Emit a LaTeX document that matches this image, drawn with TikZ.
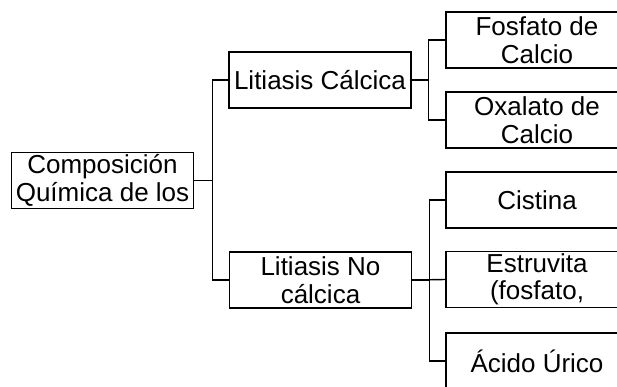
\documentclass[tikz,border=0pt]{standalone}
\usepackage{fontspec}
\setmainfont{Liberation Sans}
\usepackage{tikz}

\tikzset{caja/.style={rectangle, draw, line width=1.5pt, minimum width=182pt, minimum height=56pt,
    inner sep=1pt, align=center, font=\fontsize{26}{27.5}\selectfont}}

\begin{document}
\begin{tikzpicture}[x=1pt, y=1pt, line width=1.4pt]
                    \useasboundingbox (0, 0) rectangle (617, 386);
                    \node[caja] (raiz) at (102.5, 205.5) {Composición\\Química de los};
                    \node[caja] (calcica) at (320, 306) {Litiasis Cálcica};
                    \node[caja] (nocalcica) at (320.5, 106) {Litiasis No\\cálcica};
                    \node[caja] (fosfato) at (537, 346) {Fosfato de\\Calcio};
                    \node[caja] (oxalato) at (537, 266) {Oxalato de\\Calcio};
                    \node[caja] (cistina) at (537, 186) {Cistina};
                    \node[caja] (estruvita) at (537, 106.5) {Estruvita\\(fosfato,};
                    \node[caja] (acido) at (537, 25) {Ácido Úrico};
                    \draw (raiz.east) -- +(18.5, 0) |- (calcica.west);
                    \draw (raiz.east) -- +(18.5, 0) |- (nocalcica.west);
                    \draw (calcica.east) -- +(17, 0) |- (fosfato.west);
                    \draw (calcica.east) -- +(17, 0) |- (oxalato.west);
                    \draw (nocalcica.east) -- +(17, 0) |- (cistina.west);
                    \draw (nocalcica.east) -- (estruvita.west);
                    \draw (nocalcica.east) -- +(17, 0) |- (acido.west);
                \end{tikzpicture}
\end{document}
